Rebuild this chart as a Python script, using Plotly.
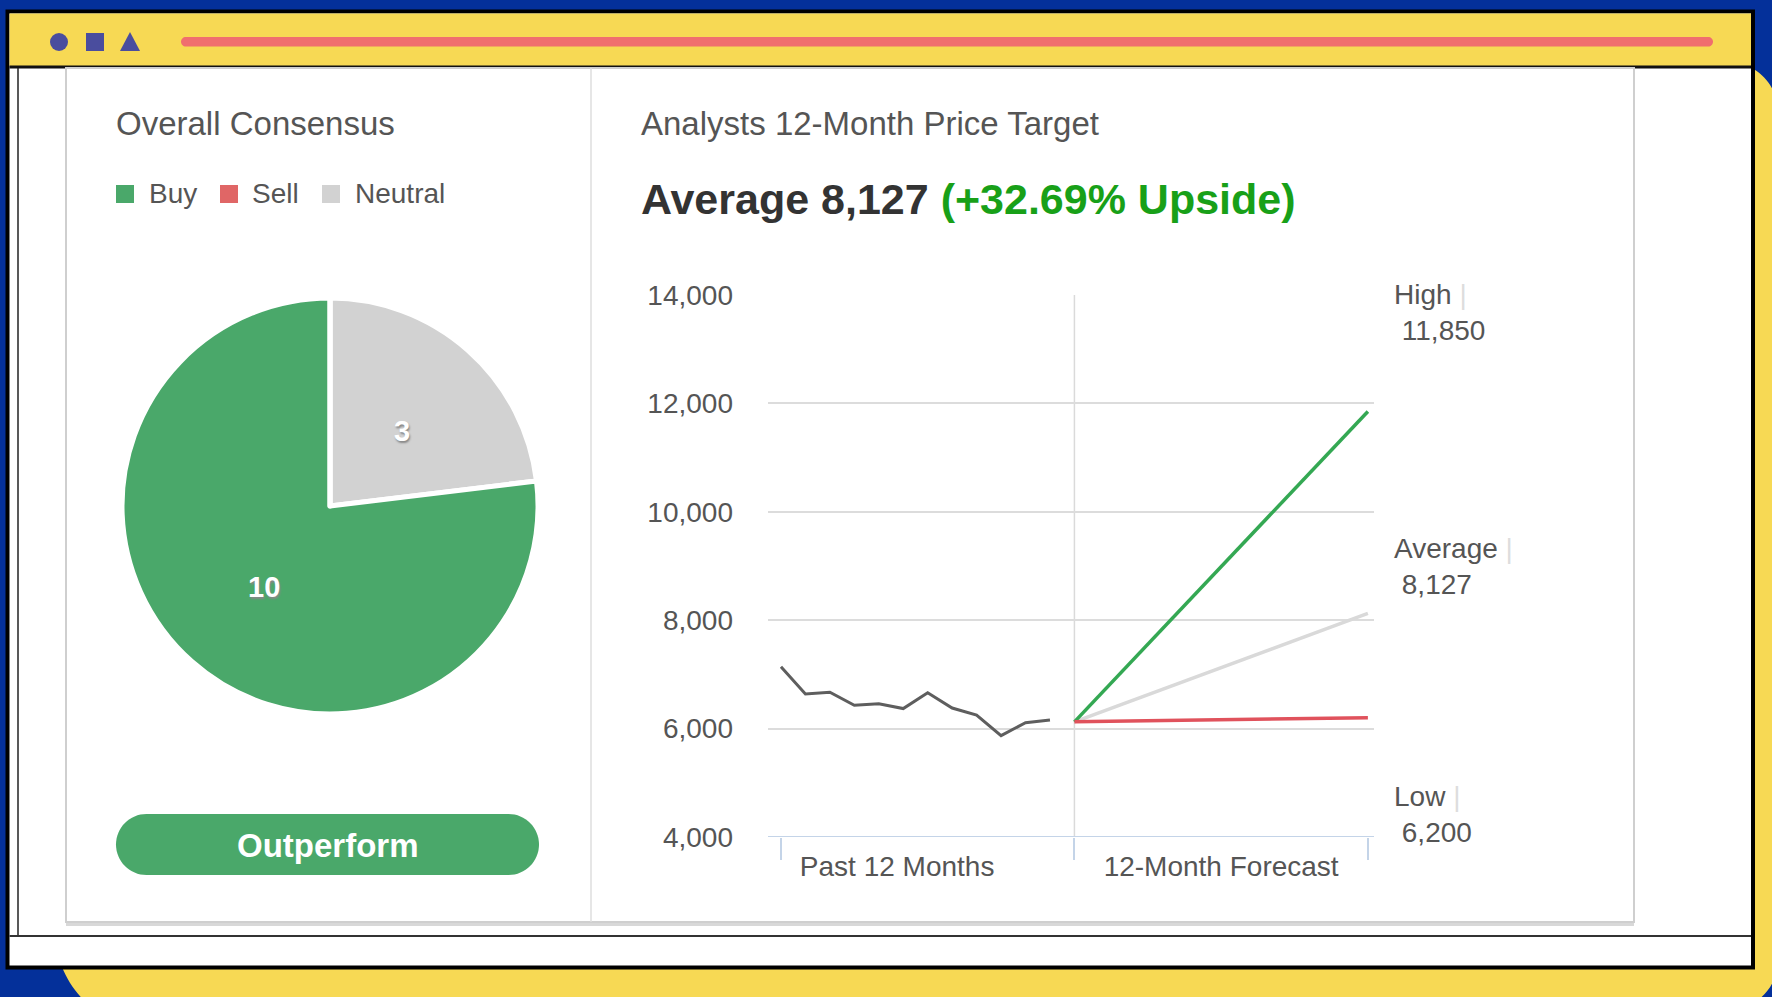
import math
import plotly.graph_objects as go

W, H = 1772, 997

def X(px):
    return px / W

def Y(py):
    return 1 - py / H

# ---------------- data ----------------
rating_labels = ["Buy", "Sell", "Neutral"]
rating_counts = [10, 0, 3]
rating_colors = ["#4aa86a", "#e06666", "#d2d2d2"]
consensus_text = "Outperform"

past_months = list(range(12))
past_prices = [7140, 6640, 6670, 6430, 6460, 6370, 6660, 6380, 6250, 5870, 6110, 6160]
current_price = 6125
forecast_months = [12, 24]
target_names = ["High", "Average", "Low"]
target_values = [11850, 8127, 6200]
target_colors = ["#34a853", "#d9d9d9", "#e0525c"]
upside_pct = 32.69
y_ticks = [4000, 6000, 8000, 10000, 12000, 14000]
period_labels = ["Past 12 Months", "12-Month Forecast"]
period_label_pos = [4.75, 18]
period_bounds = [0, 12, 24]

FONT = "Liberation Sans, Arial, sans-serif"
TXT = "#555555"

# ---------------- helpers ----------------
K = 0.5523

def rrect(x0, y0, x1, y1, r):
    p = []
    p.append(f"M {X(x0 + r)},{Y(y0)}")
    p.append(f"L {X(x1 - r)},{Y(y0)}")
    p.append(f"C {X(x1 - r + K * r)},{Y(y0)} {X(x1)},{Y(y0 + r - K * r)} {X(x1)},{Y(y0 + r)}")
    p.append(f"L {X(x1)},{Y(y1 - r)}")
    p.append(f"C {X(x1)},{Y(y1 - r + K * r)} {X(x1 - r + K * r)},{Y(y1)} {X(x1 - r)},{Y(y1)}")
    p.append(f"L {X(x0 + r)},{Y(y1)}")
    p.append(f"C {X(x0 + r - K * r)},{Y(y1)} {X(x0)},{Y(y1 - r + K * r)} {X(x0)},{Y(y1 - r)}")
    p.append(f"L {X(x0)},{Y(y0 + r)}")
    p.append(f"C {X(x0)},{Y(y0 + r - K * r)} {X(x0 + r - K * r)},{Y(y0)} {X(x0 + r)},{Y(y0)}")
    p.append("Z")
    return " ".join(p)

def prect(x0, y0, x1, y1, fill, line=None, lw=0, layer="below"):
    return dict(type="rect", xref="paper", yref="paper", x0=X(x0), x1=X(x1), y0=Y(y1), y1=Y(y0),
                fillcolor=fill, line=dict(color=line or fill, width=lw), layer=layer)

def pline(x0, y0, x1, y1, color, lw, layer="below"):
    return dict(type="line", xref="paper", yref="paper", x0=X(x0), x1=X(x1), y0=Y(y0), y1=Y(y1),
                line=dict(color=color, width=lw), layer=layer)

shapes = []
# yellow blob behind window
yb = []
x0, y0, x1 = 55, 62, 1778
yb.append(f"M {X(x0 + 100)},{Y(y0)} L {X(x1 - 50)},{Y(y0)}")
yb.append(f"C {X(x1 - 50 + K*50)},{Y(y0)} {X(x1)},{Y(y0 + 50 - K*50)} {X(x1)},{Y(y0 + 50)}")
yb.append(f"L {X(x1)},{Y(960)}")
yb.append(f"C {X(x1)},{Y(960 + K*50)} {X(1728 + K*50)},{Y(1010)} {X(1728)},{Y(1010)}")
yb.append(f"L {X(155)},{Y(1030)}")
yb.append(f"C {X(155 - K*100)},{Y(1030)} {X(x0)},{Y(930 + K*100)} {X(x0)},{Y(930)}")
yb.append(f"L {X(x0)},{Y(y0 + 100)}")
yb.append(f"C {X(x0)},{Y(y0 + 100 - K*100)} {X(x0 + 100 - K*100)},{Y(y0)} {X(x0 + 100)},{Y(y0)} Z")
shapes.append(dict(type="path", xref="paper", yref="paper", path=" ".join(yb),
                   fillcolor="#f7d954", line=dict(width=0), layer="below"))
# window
shapes.append(prect(7.5, 11.5, 1753, 967.5, "#ffffff", "#000000", 4))
# header
shapes.append(prect(9.5, 13.5, 1751, 66, "#f7d954", "#f7d954", 0))
shapes.append(pline(9.5, 67, 1751, 67, "#111111", 3))
# red bar
shapes.append(dict(type="path", xref="paper", yref="paper", path=rrect(181, 37, 1713, 46.5, 4.75),
                   fillcolor="#f06e6e", line=dict(width=0), layer="below"))
# icons
ic = "#4a4d9e"
shapes.append(dict(type="circle", xref="paper", yref="paper", x0=X(50), x1=X(68), y0=Y(51), y1=Y(33),
                   fillcolor=ic, line=dict(width=0), layer="below"))
shapes.append(prect(86, 33, 104, 51, ic))
shapes.append(dict(type="path", xref="paper", yref="paper",
                   path=f"M {X(120)},{Y(51)} L {X(140)},{Y(51)} L {X(130)},{Y(32)} Z",
                   fillcolor=ic, line=dict(width=0), layer="below"))
# inner frame lines
shapes.append(pline(18, 68, 18, 936, "#222222", 1.5))
shapes.append(pline(9.5, 936, 1751, 936, "#333333", 2))
# panel
shapes.append(pline(66, 924, 1634, 924, "#d8d8d8", 4))
shapes.append(prect(66, 68, 1634, 922, "#ffffff", "#cfcfcf", 2))
shapes.append(pline(591, 68, 591, 922, "#dedede", 1.5))

# legend squares
leg_sq_x = [116, 220, 322]
leg_tx_x = [147, 250, 353]
annotations = []
for lab, col, sx, tx in zip(rating_labels, rating_colors, leg_sq_x, leg_tx_x):
    shapes.append(prect(sx, 185, sx + 18, 203, col))
    annotations.append(dict(xref="paper", yref="paper", x=X(tx), y=Y(194), xanchor="left", yanchor="middle",
                            text=lab, showarrow=False, font=dict(family=FONT, size=28, color=TXT)))

# outperform button
shapes.append(dict(type="path", xref="paper", yref="paper", path=rrect(116, 814, 539, 875, 30.5),
                   fillcolor="#4aa86a", line=dict(width=0), layer="below"))
annotations.append(dict(xref="paper", yref="paper", x=X(328), y=Y(845), xanchor="center", yanchor="middle",
                        text=f"<b>{consensus_text}</b>", showarrow=False,
                        font=dict(family=FONT, size=33, color="#ffffff")))

# titles
annotations.append(dict(xref="paper", yref="paper", x=X(114), y=Y(123), xanchor="left", yanchor="middle",
                        text="Overall Consensus", showarrow=False, font=dict(family=FONT, size=33, color=TXT)))
annotations.append(dict(xref="paper", yref="paper", x=X(639), y=Y(123), xanchor="left", yanchor="middle",
                        text="Analysts 12-Month Price Target", showarrow=False,
                        font=dict(family=FONT, size=33, color=TXT)))
avg_val = target_values[1]
annotations.append(dict(xref="paper", yref="paper", x=X(639), y=Y(199), xanchor="left", yanchor="middle",
                        text=f"<b>Average {avg_val:,} <span style='color:#18a018'>(+{upside_pct:.2f}% Upside)</span></b>",
                        showarrow=False, font=dict(family=FONT, size=43, color="#333333")))

# pie value labels (computed from the data), slices run clockwise from 12 o'clock
total = sum(rating_counts)
pcx, pcy, pr = 330, 506, 208
order = [2, 0, 1]  # Neutral, Buy, Sell going clockwise
start = 0.0
for i in order:
    v = rating_counts[i]
    if v == 0:
        continue
    frac = v / total
    mid = start + frac / 2
    ang = 2 * math.pi * mid
    lx = pcx + 0.5 * pr * math.sin(ang)
    ly = pcy - 0.5 * pr * math.cos(ang)
    annotations.append(dict(xref="paper", yref="paper", x=X(lx + 3), y=Y(ly + 3), xanchor="center", yanchor="middle",
                            text=f"<b>{v}</b>", showarrow=False,
                            font=dict(family=FONT, size=29, color="#ffffff", shadow="1px 2px 2px #888888")))
    start += frac

# right-side target labels
label_y = [297, 550, 798]
for name, val, ly in zip(target_names, target_values, label_y):
    annotations.append(dict(xref="paper", yref="paper", x=X(1392), y=Y(ly + 16), xanchor="left", yanchor="middle",
                            text=f"{name} <span style='color:#dddddd'>|</span><br> {val:,}", showarrow=False, align="left",
                            font=dict(family=FONT, size=28, color=TXT)))

fig = go.Figure()

fig.add_trace(go.Pie(labels=[rating_labels[i] for i in order], values=[rating_counts[i] for i in order],
                     sort=False, direction="clockwise", rotation=0,
                     marker=dict(colors=[rating_colors[i] for i in order], line=dict(color="#ffffff", width=5)),
                     textinfo="none", hoverinfo="skip", showlegend=False, automargin=False,
                     domain=dict(x=[X(pcx - pr), X(pcx + pr)], y=[Y(pcy + pr), Y(pcy - pr)])))

fig.add_trace(go.Scatter(x=past_months, y=past_prices, mode="lines",
                         line=dict(color="#5e5e5e", width=3), showlegend=False, hoverinfo="skip"))
# average first (underneath), then high, then low
for idx in [1, 0, 2]:
    fig.add_trace(go.Scatter(x=forecast_months, y=[current_price, target_values[idx]], mode="lines",
                             line=dict(color=target_colors[idx], width=3.5), showlegend=False, hoverinfo="skip"))

# axis decorations
shapes.append(dict(type="line", xref="x", yref="y", x0=period_bounds[1], x1=period_bounds[1],
                   y0=y_ticks[0], y1=y_ticks[-1], line=dict(color="#dadada", width=1.5), layer="below"))
shapes.append(dict(type="line", xref="x domain", yref="y", x0=0, x1=1, y0=y_ticks[0], y1=y_ticks[0],
                   line=dict(color="#c4d4e8", width=2), layer="above"))

fig.update_layout(
    width=W, height=H, autosize=False,
    margin=dict(l=0, r=0, t=0, b=0, pad=0, autoexpand=False),
    paper_bgcolor="#04309a", plot_bgcolor="rgba(0,0,0,0)",
    shapes=shapes, annotations=annotations, showlegend=False,
    xaxis=dict(domain=[X(768), X(1374)], range=[-0.53, 24.25], tickvals=period_label_pos, ticktext=period_labels,
               ticks="", showgrid=False, zeroline=False, showline=False, ticklabelstandoff=10, automargin=False,
               tickfont=dict(family=FONT, size=28, color=TXT),
               minor=dict(tickvals=period_bounds, ticks="outside", ticklen=22, tickcolor="#c4d4e8", tickwidth=2,
                          showgrid=False)),
    yaxis=dict(domain=[Y(837), Y(295)], range=[y_ticks[0], y_ticks[-1]], tickvals=y_ticks, tickformat=",",
               ticks="", showgrid=True, gridcolor="#dcdcdc", gridwidth=1.5, zeroline=False, showline=False,
               automargin=False, ticklabelstandoff=34, tickfont=dict(family=FONT, size=28, color=TXT)),
)

fig.write_html("out.html", config={"displayModeBar": False},
               post_script="document.body.style.margin='0px';document.body.style.overflow='hidden';")
